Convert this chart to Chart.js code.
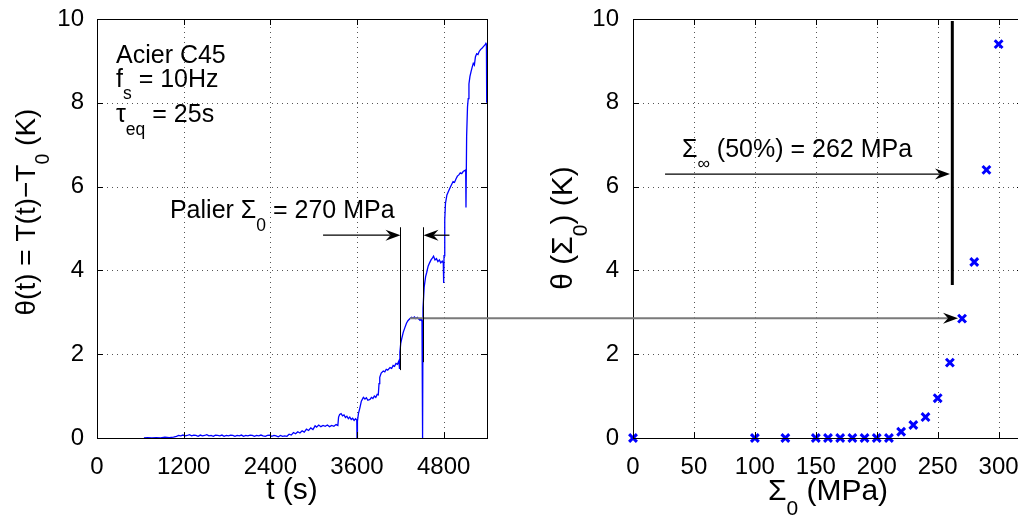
<!DOCTYPE html>
<html>
<head>
<meta charset="utf-8">
<script src="https://cdn.jsdelivr.net/npm/chart.js@4.4.0/dist/chart.umd.min.js"></script>
<style>
  html, body { margin: 0; padding: 0; background: #fff; overflow: hidden; width: 1018px; height: 516px; }
  #left  { position: absolute; left: 0;     top: 0; }
  #right { position: absolute; left: 540px; top: 0; }
</style>
</head>
<body>
<canvas id="left" width="540" height="516"></canvas>
<canvas id="right" width="520" height="516"></canvas>
<script>
// --- donnees ---
const timeS = [
  650, 700, 760, 820, 880, 940, 1000, 1060, 1100, 1130,
  1160, 1190, 1220, 1250, 1280, 1310, 1340, 1370, 1400, 1430,
  1460, 1490, 1520, 1550, 1580, 1610, 1640, 1670, 1700, 1730,
  1760, 1790, 1820, 1850, 1880, 1910, 1940, 1970, 2000, 2030,
  2060, 2090, 2120, 2150, 2180, 2210, 2240, 2270, 2300, 2330,
  2360, 2390, 2420, 2450, 2480, 2510, 2540, 2570, 2600, 2630,
  2660, 2690, 2720, 2750, 2780, 2810, 2840, 2870, 2900, 2930,
  2960, 2990, 3020, 3040, 3070, 3100, 3130, 3160, 3190, 3220,
  3250, 3280, 3310, 3335, 3345, 3360, 3380, 3400, 3420, 3440,
  3460, 3480, 3500, 3520, 3540, 3560, 3580, 3597, 3600, 3606,
  3620, 3640, 3660, 3688, 3710, 3730, 3750, 3780, 3800, 3820,
  3840, 3860, 3880, 3895, 3905, 3915, 3935, 3964, 3985, 4005,
  4025, 4057, 4080, 4100, 4120, 4140, 4160, 4180, 4188, 4194,
  4205, 4218, 4240, 4264, 4285, 4305, 4334, 4355, 4375, 4395,
  4415, 4435, 4455, 4472, 4488, 4500, 4508, 4514, 4530, 4550,
  4565, 4585, 4605, 4625, 4645, 4660, 4680, 4700, 4720, 4740,
  4760, 4780, 4795, 4800, 4805, 4815, 4825, 4845, 4870, 4890,
  4910, 4930, 4950, 4970, 4990, 5010, 5030, 5050, 5070, 5090,
  5105, 5109, 5118, 5130, 5140, 5150, 5164, 5180, 5195, 5210,
  5225, 5240, 5257, 5275, 5290, 5310, 5330, 5350, 5372, 5385,
  5392, 5396
];
const thetaK = [
  0.00, 0.01, 0.00, 0.01, 0.00, 0.02, 0.01, 0.02, 0.04, 0.06,
  0.05, 0.07, 0.05, 0.06, 0.08, 0.05, 0.07, 0.06, 0.04, 0.07,
  0.05, 0.06, 0.08, 0.05, 0.06, 0.04, 0.07, 0.06, 0.05, 0.07,
  0.04, 0.06, 0.05, 0.07, 0.06, 0.04, 0.06, 0.05, 0.07, 0.04,
  0.06, 0.05, 0.07, 0.06, 0.04, 0.06, 0.05, 0.07, 0.05, 0.04,
  0.06, 0.07, 0.04, 0.06, 0.05, 0.03, 0.06, 0.04, 0.05, 0.04,
  0.09, 0.07, 0.13, 0.10, 0.15, 0.12, 0.17, 0.14, 0.21, 0.18,
  0.24, 0.20, 0.29, 0.26, 0.31, 0.27, 0.30, 0.28, 0.31, 0.27,
  0.30, 0.28, 0.32, 0.30, 0.50, 0.56, 0.58, 0.53, 0.55, 0.49,
  0.52, 0.46, 0.50, 0.44, 0.47, 0.42, 0.46, 0.43, 0.00, 0.40,
  0.58, 0.72, 0.88, 0.97, 0.93, 0.96, 0.90, 0.92, 0.97, 0.94,
  1.00, 0.97, 1.04, 1.03, 1.30, 1.45, 1.55, 1.60, 1.58, 1.64,
  1.62, 1.68, 1.66, 1.73, 1.71, 1.78, 1.76, 1.84, 1.66, 2.05,
  2.25, 2.36, 2.52, 2.64, 2.74, 2.80, 2.85, 2.88, 2.86, 2.89,
  2.85, 2.88, 2.84, 2.81, 2.84, 2.78, 0.00, 3.10, 3.60, 3.85,
  3.95, 4.10, 4.18, 4.25, 4.30, 4.34, 4.25, 4.28, 4.21, 4.25,
  4.18, 4.22, 4.17, 3.70, 4.35, 5.20, 5.60, 5.80, 5.90, 5.98,
  6.05, 6.12, 6.10, 6.18, 6.25, 6.28, 6.33, 6.31, 6.36, 6.38,
  6.40, 5.50, 7.20, 7.90, 8.10, 8.45, 8.63, 8.75, 8.85, 8.94,
  8.90, 9.10, 9.17, 9.15, 9.22, 9.27, 9.30, 9.34, 9.38, 9.42,
  9.40, 8.00
];
const stressMPa   = [0, 100, 125, 150, 160, 170, 180, 190, 200, 210, 220, 230, 240, 250, 260, 270, 280, 290, 300];
const thetaStress = [0, 0, 0, 0, 0, 0, 0, 0, 0, 0, 0.15, 0.31, 0.50, 0.95, 1.80, 2.85, 4.20, 6.40, 9.40];
const timeTicks   = [0, 1200, 2400, 3600, 4800];
const stressTicks = [0, 50, 100, 150, 200, 250, 300];
const thetaTicks  = [0, 2, 4, 6, 8, 10];

// --- helpers ---
const FONT = '"Liberation Sans", Arial, Helvetica, sans-serif';
const BLUE = '#0000ff';
const setFont = (ctx, size) => { ctx.font = `${size}px ${FONT}`; };
const richWidth = (ctx, parts, size) => parts.reduce((w, [txt, sub]) => {
  setFont(ctx, sub ? size * 0.7 : size);
  return w + ctx.measureText(txt).width;
}, 0);
const drawRich = (ctx, parts, x, y, size, align = 'left') => {
  let cx = align === 'center' ? x - richWidth(ctx, parts, size) / 2 : x;
  ctx.textAlign = 'left';
  ctx.textBaseline = 'alphabetic';
  ctx.fillStyle = '#000';
  parts.forEach(([txt, sub]) => {
    setFont(ctx, sub ? size * 0.7 : size);
    ctx.fillText(txt, cx, sub ? y + size * 0.5 : y);
    cx += ctx.measureText(txt).width;
  });
};
const drawRotated = (ctx, parts, x, y, size) => {
  ctx.save();
  ctx.translate(x, y);
  ctx.rotate(-Math.PI / 2);
  drawRich(ctx, parts, 0, 0, size, 'center');
  ctx.restore();
};
const seg = (ctx, x1, y1, x2, y2) => { ctx.beginPath(); ctx.moveTo(x1, y1); ctx.lineTo(x2, y2); ctx.stroke(); };
const arrowHead = (ctx, x, y, dir) => {
  ctx.beginPath();
  ctx.moveTo(x, y);
  ctx.lineTo(x - dir * 15, y - 5.5);
  ctx.lineTo(x - dir * 10, y);
  ctx.lineTo(x - dir * 15, y + 5.5);
  ctx.closePath();
  ctx.fillStyle = '#000';
  ctx.fill();
};
// grille pointillee facon matlab
const dotGrid = (ctx, a, xs, ys, xTicks, yTicks) => {
  ctx.save();
  ctx.strokeStyle = '#555';
  ctx.lineWidth = 1;
  ctx.setLineDash([1, 4]);
  xTicks.forEach(v => {
    const p = Math.round(xs.getPixelForValue(v)) + 0.5;
    seg(ctx, p, a.bottom, p, a.top);
  });
  yTicks.forEach(v => {
    const p = Math.round(ys.getPixelForValue(v)) + 0.5;
    seg(ctx, a.left, p, a.right, p);
  });
  ctx.restore();
};
const frame = (ctx, a, xs, ys, xTicks, yTicks) => {
  ctx.strokeStyle = '#000';
  ctx.lineWidth = 1;
  ctx.strokeRect(Math.round(a.left) + 0.5, Math.round(a.top) + 0.5, Math.round(a.width), Math.round(a.height));
  xTicks.forEach(v => {
    const p = Math.round(xs.getPixelForValue(v)) + 0.5;
    seg(ctx, p, a.bottom, p, a.bottom - 6);
    seg(ctx, p, a.top, p, a.top + 6);
  });
  yTicks.forEach(v => {
    const p = Math.round(ys.getPixelForValue(v)) + 0.5;
    seg(ctx, a.left, p, a.left + 6, p);
    seg(ctx, a.right, p, a.right - 6, p);
  });
};

const tickFont = { family: FONT, size: 24 };
const xAxis = (max, ticks) => ({
  type: 'linear', min: 0, max,
  afterBuildTicks: s => { s.ticks = ticks.map(value => ({ value })); },
  afterFit: s => { s.height = 78; s.paddingLeft = 0; s.paddingRight = 0; },
  ticks: { font: tickFont, color: '#000', padding: 7, maxRotation: 0, autoSkip: false, callback: v => String(v) },
  grid: { display: false },
  border: { display: false }
});
const yAxis = (width, pad) => ({
  type: 'linear', min: 0, max: 10,
  afterBuildTicks: s => { s.ticks = thetaTicks.map(value => ({ value })); },
  afterFit: s => { s.width = width; s.paddingTop = 0; s.paddingBottom = 0; },
  ticks: { font: tickFont, color: '#000', padding: pad, callback: v => String(v) },
  grid: { display: false },
  border: { display: false }
});

// --- panneau gauche : theta(t) ---
const leftNotes = {
  id: 'leftNotes',
  beforeDatasetsDraw(chart) {
    const { ctx, chartArea: a, scales: { x, y } } = chart;
    dotGrid(ctx, a, x, y, timeTicks, thetaTicks);
  },
  afterDraw(chart) {
    const { ctx, chartArea: a, scales: { x, y } } = chart;
    ctx.save();
    frame(ctx, a, x, y, timeTicks, thetaTicks);

    // liaison vers le panneau droit
    ctx.strokeStyle = '#7a7a7a';
    ctx.lineWidth = 2;
    seg(ctx, x.getPixelForValue(4334), y.getPixelForValue(2.86), chart.width, y.getPixelForValue(2.86));

    // palier
    ctx.strokeStyle = '#000';
    ctx.lineWidth = 1;
    const xa = Math.round(x.getPixelForValue(4190)) + 0.5;
    const xb = Math.round(x.getPixelForValue(4514)) + 0.5;
    seg(ctx, xa, y.getPixelForValue(5.03), xa, y.getPixelForValue(1.62));
    seg(ctx, xb, y.getPixelForValue(5.03), xb, y.getPixelForValue(1.81));
    const ya = y.getPixelForValue(4.84);
    ctx.lineWidth = 1.3;
    seg(ctx, x.getPixelForValue(3130), ya, xa - 10, ya);
    arrowHead(ctx, xa, ya, 1);
    seg(ctx, x.getPixelForValue(4880), ya, xb + 10, ya);
    arrowHead(ctx, xb, ya, -1);

    drawRich(ctx, [['Palier Σ'], ['0', true], [' = 270 MPa']], x.getPixelForValue(1010), y.getPixelForValue(5.25), 25);
    drawRich(ctx, [['Acier C45']], x.getPixelForValue(263), y.getPixelForValue(8.95), 25);
    drawRich(ctx, [['f'], ['s', true], [' = 10Hz']], x.getPixelForValue(263), y.getPixelForValue(8.38), 25);
    drawRich(ctx, [['τ'], ['eq', true], [' = 25s']], x.getPixelForValue(263), y.getPixelForValue(7.54), 25);

    drawRich(ctx, [['t (s)']], (a.left + a.right) / 2, 499, 30, 'center');
    drawRotated(ctx, [['θ(t) = T(t)−T'], ['0', true], [' (K)']], 35, 212, 28);
    ctx.restore();
  }
};

new Chart(document.getElementById('left'), {
  type: 'line',
  data: {
    datasets: [{
      data: timeS.map((t, i) => ({ x: t, y: thetaK[i] })),
      borderColor: BLUE, borderWidth: 1.3, pointRadius: 0, tension: 0, fill: false
    }]
  },
  options: {
    responsive: false, animation: false,
    layout: { padding: { left: 0, top: 19, right: 53, bottom: 0 } },
    plugins: { legend: { display: false }, tooltip: { enabled: false } },
    scales: { x: xAxis(5400, timeTicks), y: yAxis(97, 5) }
  },
  plugins: [leftNotes]
});

// --- panneau droit : theta(Sigma0) ---
const rightNotes = {
  id: 'rightNotes',
  beforeDatasetsDraw(chart) {
    const { ctx, chartArea: a, scales: { x, y } } = chart;
    dotGrid(ctx, a, x, y, stressTicks, thetaTicks);
  },
  afterDraw(chart) {
    const { ctx, chartArea: a, scales: { x, y } } = chart;
    ctx.save();
    frame(ctx, a, x, y, stressTicks, thetaTicks);

    // limite d'endurance
    ctx.strokeStyle = '#000';
    ctx.lineWidth = 3;
    const xl = x.getPixelForValue(262);
    seg(ctx, xl, y.getPixelForValue(9.95), xl, y.getPixelForValue(3.65));
    ctx.lineWidth = 1.3;
    const yArr = y.getPixelForValue(6.30);
    const tip = x.getPixelForValue(260.1);
    seg(ctx, x.getPixelForValue(26.3), yArr, tip - 10, yArr);
    arrowHead(ctx, tip, yArr, 1);
    drawRich(ctx, [['Σ'], ['∞', true], [' (50%) = 262 MPa']], x.getPixelForValue(40.2), y.getPixelForValue(6.71), 25);

    // liaison depuis le panneau gauche
    ctx.strokeStyle = '#7a7a7a';
    ctx.lineWidth = 2;
    const yc = y.getPixelForValue(2.86);
    const tc = x.getPixelForValue(266.7);
    seg(ctx, 0, yc, tc - 10, yc);
    arrowHead(ctx, tc, yc, 1);

    drawRich(ctx, [['Σ'], ['0', true], [' (MPa)']], (a.left + a.right) / 2, 500, 30, 'center');
    drawRotated(ctx, [['θ (Σ'], ['0', true], [') (K)']], 32, 228, 30);
    ctx.restore();
  }
};

new Chart(document.getElementById('right'), {
  type: 'scatter',
  data: {
    datasets: [{
      data: stressMPa.map((s, i) => ({ x: s, y: thetaStress[i] })),
      pointStyle: 'crossRot', pointRadius: 5.5, pointBorderWidth: 3,
      borderColor: BLUE, backgroundColor: BLUE, showLine: false, clip: false
    }]
  },
  options: {
    responsive: false, animation: false,
    layout: { padding: { left: 0, top: 19, right: 37, bottom: 0 } },
    plugins: { legend: { display: false }, tooltip: { enabled: false } },
    scales: { x: xAxis(320, stressTicks), y: yAxis(93, 6) }
  },
  plugins: [rightNotes]
});
</script>
</body>
</html>
